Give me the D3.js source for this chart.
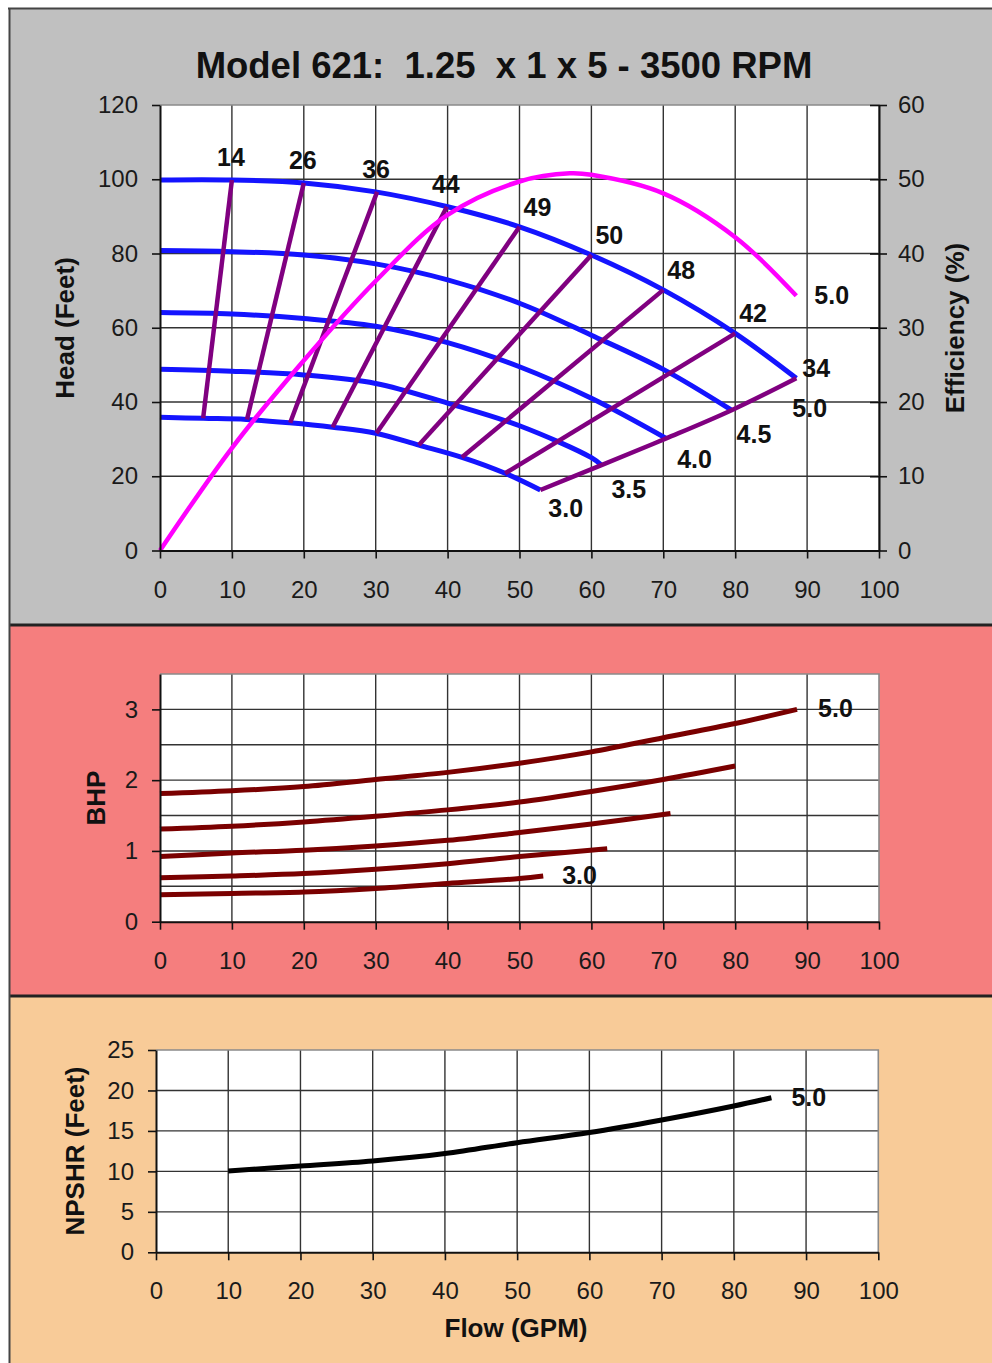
<!DOCTYPE html>
<html>
<head>
<meta charset="utf-8">
<script src="https://cdn.jsdelivr.net/npm/d3@7"></script>
<style>
  body { margin: 0; background: #fff; }
  text { font-family: "Liberation Sans", Arial, sans-serif; }
</style>
</head>
<body>
<script>
// ---- data ----
const flowTicks = [0, 10, 20, 30, 40, 50, 60, 70, 80, 90, 100];
const headTicks = [0, 20, 40, 60, 80, 100, 120];
const effTicks = [0, 10, 20, 30, 40, 50, 60];
const bhpTicks = [0, 1, 2, 3];
const bhpGrid = [0.5, 1, 1.5, 2, 2.5, 3];
const npshTicks = [0, 5, 10, 15, 20, 25];

const diameters = ["3.0", "3.5", "4.0", "4.5", "5.0"];

// head curves (flow, head) per impeller diameter
const head30Flow = [0, 6, 12, 18, 24, 30, 36, 42, 48, 52.9];
const head30 = [35.9, 35.6, 35.3, 34.4, 33.2, 31.6, 28.4, 25.1, 20.8, 16.3];
const head35Flow = [0, 10, 20, 30, 40, 50, 60, 61.4];
const head35 = [48.8, 48.3, 47.3, 45.0, 39.7, 33.6, 25.0, 23.0];
const head40Flow = [0, 10, 20, 30, 40, 50, 60, 70.4];
const head40 = [64.1, 63.7, 62.5, 60.4, 56.0, 49.5, 41.0, 30.2];
const head45Flow = [0, 10, 20, 30, 40, 50, 60, 70, 79.5];
const head45 = [80.8, 80.5, 79.6, 77.2, 72.9, 66.6, 58.0, 48.8, 37.8];
const head50Flow = [0, 10, 20, 30, 40, 50, 60, 70, 80, 88.5];
const head50 = [99.8, 99.8, 99.0, 96.6, 92.6, 87.2, 79.6, 70.2, 58.5, 46.4];

// iso-efficiency lines
const isoEff = [14, 26, 36, 44, 49, 50, 48, 42, 34];
const isoLines = [
  [[10, 99.8], [6, 35.6]],
  [[20, 99.0], [12.1, 35.3]],
  [[30.2, 96.6], [18.1, 34.4]],
  [[39.9, 92.6], [24, 33.2]],
  [[50, 87.2], [30.1, 31.6]],
  [[60, 79.6], [36, 28.4]],
  [[70, 70.2], [42, 25.1]],
  [[80, 58.5], [48, 20.8]],
  [[88.5, 46.4], [79.5, 37.8], [70.4, 30.2], [61.4, 23.0], [52.9, 16.3]]
];

// efficiency curve (5.0 impeller)
const effFlow = [0, 10, 20, 30, 40, 50, 57, 60, 70, 80, 88.5];
const eff = [0, 13.8, 25.6, 36.3, 45.2, 49.7, 50.8, 50.6, 48.1, 42.2, 34.3];

// brake horsepower
const bhp30Flow = [0, 10, 20, 30, 40, 50, 53.3];
const bhp30 = [0.38, 0.40, 0.42, 0.47, 0.54, 0.61, 0.645];
const bhp35Flow = [0, 10, 20, 30, 40, 50, 62.2];
const bhp35 = [0.62, 0.645, 0.68, 0.74, 0.82, 0.92, 1.03];
const bhp40Flow = [0, 10, 20, 30, 40, 50, 60, 71];
const bhp40 = [0.92, 0.97, 1.01, 1.07, 1.15, 1.26, 1.38, 1.53];
const bhp45Flow = [0, 10, 20, 30, 40, 50, 60, 70, 80];
const bhp45 = [1.31, 1.35, 1.41, 1.49, 1.58, 1.69, 1.84, 2.01, 2.20];
const bhp50Flow = [0, 10, 20, 30, 40, 50, 60, 70, 80, 88.6];
const bhp50 = [1.81, 1.85, 1.91, 2.01, 2.11, 2.24, 2.40, 2.60, 2.80, 3.0];

// NPSH required
const npshFlow = [10, 20, 30, 40, 50, 60, 70, 80, 85.2];
const npsh = [10.05, 10.66, 11.28, 12.2, 13.55, 14.8, 16.35, 18.08, 19.1];

// ---- drawing ----
const W = 992, H = 1363;
const svg = d3.select("body").append("svg").attr("width", W).attr("height", H);

const zip = (xs, ys) => xs.map((x, i) => [x, ys[i]]);

// panel backgrounds
svg.append("rect").attr("x", 9).attr("y", 9).attr("width", 1000).attr("height", 616).attr("fill", "#c0c0c0");
svg.append("rect").attr("x", 9).attr("y", 625).attr("width", 1000).attr("height", 371).attr("fill", "#f57e7e");
svg.append("rect").attr("x", 9).attr("y", 996).attr("width", 1000).attr("height", 380).attr("fill", "#f8cb98");
[625, 996].forEach(y => {
  svg.append("line").attr("x1", 9).attr("x2", W).attr("y1", y).attr("y2", y)
    .attr("stroke", "#222").attr("stroke-width", 3);
});
svg.append("line").attr("x1", 8).attr("x2", W).attr("y1", 8.5).attr("y2", 8.5).attr("stroke", "#444").attr("stroke-width", 2);
svg.append("line").attr("x1", 9.5).attr("x2", 9.5).attr("y1", 8).attr("y2", H).attr("stroke", "#444").attr("stroke-width", 2);

function styleAxis(g) {
  g.select(".domain").attr("stroke", "#111").attr("stroke-width", 2);
  g.selectAll(".tick line").attr("stroke", "#111").attr("stroke-width", 1.6);
  g.selectAll(".tick text").attr("font-size", 24).attr("fill", "#1a1a1a")
    .attr("font-family", "Liberation Sans, Arial, sans-serif");
}

function plotFrame(x, y, xGrid, yGrid) {
  const [x0, x1] = x.range();
  const [y0, y1] = y.range();
  const g = svg.append("g");
  g.append("rect").attr("x", x0).attr("y", y1).attr("width", x1 - x0).attr("height", y0 - y1)
    .attr("fill", "#fff");
  g.selectAll("line.v").data(xGrid).join("line")
    .attr("x1", d => x(d)).attr("x2", d => x(d)).attr("y1", y0).attr("y2", y1)
    .attr("stroke", "#333").attr("stroke-width", 1.4);
  g.selectAll("line.h").data(yGrid).join("line")
    .attr("x1", x0).attr("x2", x1).attr("y1", d => y(d)).attr("y2", d => y(d))
    .attr("stroke", "#333").attr("stroke-width", 1.4);
  // light top and right border
  g.append("path").attr("d", `M${x0},${y1}H${x1}V${y0}`).attr("fill", "none")
    .attr("stroke", "#8a8a8a").attr("stroke-width", 1.6);
  return g;
}

function bottomAxis(x, y, ticks) {
  svg.append("g").attr("transform", `translate(0,${y.range()[0]})`)
    .call(d3.axisBottom(x).tickValues(ticks).tickSize(8).tickSizeOuter(0).tickPadding(22).tickFormat(d3.format("d")))
    .call(styleAxis);
}
function leftAxis(x, y, ticks) {
  svg.append("g").attr("transform", `translate(${x.range()[0]},0)`)
    .call(d3.axisLeft(y).tickValues(ticks).tickSize(8).tickSizeOuter(0).tickPadding(14).tickFormat(d3.format("d")))
    .call(styleAxis);
}

const lineGen = (x, y) => d3.line().x(d => x(d[0])).y(d => y(d[1])).curve(d3.curveCatmullRom.alpha(0.5));

function rotLabel(text, x, y) {
  svg.append("text").attr("transform", `translate(${x},${y}) rotate(-90)`)
    .attr("text-anchor", "middle").attr("font-size", 26).attr("font-weight", "bold")
    .attr("fill", "#111").text(text);
}
function dataLabel(text, x, y, anchor) {
  svg.append("text").attr("x", x).attr("y", y).attr("text-anchor", anchor || "start")
    .attr("font-size", 25).attr("font-weight", "bold").attr("fill", "#111").text(text);
}

// ===== top: head / efficiency =====
const xQ = d3.scaleLinear().domain([0, 100]).range([160, 879]);
const yHead = d3.scaleLinear().domain([0, 120]).range([550.5, 105]);
const yEff = d3.scaleLinear().domain([0, 60]).range([550.5, 105]);

svg.append("text").attr("x", 504).attr("y", 78).attr("text-anchor", "middle")
  .style("white-space", "pre").attr("font-size", 36.5).attr("font-weight", "bold").attr("fill", "#111")
  .text("Model 621:  1.25  x 1 x 5 - 3500 RPM");

plotFrame(xQ, yHead, flowTicks.slice(1, -1), headTicks.slice(1, -1));

const headCurves = [
  zip(head30Flow, head30), zip(head35Flow, head35), zip(head40Flow, head40),
  zip(head45Flow, head45), zip(head50Flow, head50)
];
const headLine = lineGen(xQ, yHead);
svg.append("g").selectAll("path").data(headCurves).join("path")
  .attr("d", headLine).attr("fill", "none").attr("stroke", "#1414ff").attr("stroke-width", 5);

svg.append("g").selectAll("path").data(isoLines).join("path")
  .attr("d", lineGen(xQ, yHead))
  .attr("fill", "none").attr("stroke", "#800080").attr("stroke-width", 4.5);

svg.append("path").datum(zip(effFlow, eff)).attr("d", lineGen(xQ, yEff))
  .attr("fill", "none").attr("stroke", "#ff00ff").attr("stroke-width", 4.5);

// axes
bottomAxis(xQ, yHead, flowTicks);
leftAxis(xQ, yHead, headTicks);
const rAx = svg.append("g").attr("transform", `translate(${xQ.range()[1]},0)`)
  .call(d3.axisRight(yEff).tickValues(effTicks).tickSize(8).tickSizeOuter(0).tickPadding(11))
  .call(styleAxis);
rAx.selectAll(".tick line").attr("x1", -9);

// iso-efficiency labels
isoLines.forEach((pts, i) => {
  const [f, h] = pts[0];
  const px = xQ(f), py = yHead(h);
  if (i < 4) dataLabel(isoEff[i], px - 1, py - 14, "middle");
  else if (i < 8) dataLabel(isoEff[i], px + 4, py - 11);
  else dataLabel(isoEff[i], px + 6, py - 1);
});
// impeller diameter labels at curve ends
const diaOffset = [[8, 27], [10, 33], [11, 30], [5, 33], [-4, 39]];
headCurves.forEach((c, i) => {
  const [f, h] = c[c.length - 1];
  dataLabel(diameters[i], xQ(f) + diaOffset[i][0], yHead(h) + diaOffset[i][1]);
});
dataLabel("5.0", xQ(effFlow[effFlow.length - 1]) + 18, yEff(eff[eff.length - 1]) + 8);

rotLabel("Head (Feet)", 74, 328);
rotLabel("Efficiency (%)", 964, 328);

// ===== middle: BHP =====
const xB = d3.scaleLinear().domain([0, 100]).range([160, 879]);
const yB = d3.scaleLinear().domain([0, 3.5]).range([921.7, 674]);
plotFrame(xB, yB, flowTicks.slice(1, -1), bhpGrid);
const bhpCurves = [
  zip(bhp30Flow, bhp30), zip(bhp35Flow, bhp35), zip(bhp40Flow, bhp40),
  zip(bhp45Flow, bhp45), zip(bhp50Flow, bhp50)
];
svg.append("g").selectAll("path").data(bhpCurves).join("path")
  .attr("d", lineGen(xB, yB)).attr("fill", "none").attr("stroke", "#7a0000").attr("stroke-width", 5);
bottomAxis(xB, yB, flowTicks);
leftAxis(xB, yB, bhpTicks);
dataLabel("5.0", xB(bhp50Flow[bhp50Flow.length - 1]) + 21, yB(bhp50[bhp50.length - 1]) + 8);
dataLabel("3.0", xB(bhp30Flow[bhp30Flow.length - 1]) + 19, yB(bhp30[bhp30.length - 1]) + 8);
rotLabel("BHP", 105, 798);

// ===== bottom: NPSHR =====
const xN = d3.scaleLinear().domain([0, 100]).range([156, 878.3]);
const yN = d3.scaleLinear().domain([0, 25]).range([1252.3, 1050]);
plotFrame(xN, yN, flowTicks.slice(1, -1), npshTicks.slice(1, -1));
svg.append("path").datum(zip(npshFlow, npsh)).attr("d", lineGen(xN, yN))
  .attr("fill", "none").attr("stroke", "#000").attr("stroke-width", 5);
bottomAxis(xN, yN, flowTicks);
leftAxis(xN, yN, npshTicks);
dataLabel("5.0", xN(npshFlow[npshFlow.length - 1]) + 20, yN(npsh[npsh.length - 1]) + 8);
rotLabel("NPSHR (Feet)", 84, 1151);

svg.append("text").attr("x", 516).attr("y", 1337).attr("text-anchor", "middle")
  .attr("font-size", 26).attr("font-weight", "bold").attr("fill", "#111").text("Flow (GPM)");
</script>
</body>
</html>
